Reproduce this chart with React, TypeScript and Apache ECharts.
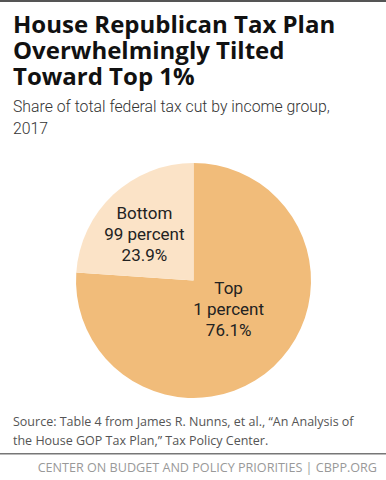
import React, { useEffect, useRef } from "react";
import * as echarts from "echarts";

const categories = ["Top\n1 percent", "Bottom\n99 percent"];
const shares = [76.1, 23.9];
const sliceColors = ["#F1BC7A", "#FBE3C7"];
const labelOffsets = [[-7, -17], [-7, -1]];

const titleLines = ["House Republican Tax Plan", "Overwhelmingly Tilted", "Toward Top 1%"];
const subtitleLines = ["Share of total federal tax cut by income group,", "2017"];
const sourceLines = [
  "Source: Table 4 from James R. Nunns, et al., \u201cAn Analysis of",
  "the House GOP Tax Plan,\u201d Tax Policy Center.",
];
const footerText = "CENTER ON BUDGET AND POLICY PRIORITIES | CBPP.ORG";

export default function App() {
  const ref = useRef<HTMLDivElement>(null);
  useEffect(() => {
    document.body.style.margin = "0";
    if (!ref.current) return;
    const chart = echarts.init(ref.current, null, { renderer: "svg" });
    const graphics: any[] = [
      { type: "rect", shape: { x: 0, y: 0, width: 386, height: 2 }, style: { fill: "#555" } },
      { type: "rect", shape: { x: 0, y: 453, width: 386, height: 1.5 }, style: { fill: "#777" } },
      {
        type: "text", x: 13, y: 10,
        style: { text: titleLines.join("\n"), font: "bold 24px 'Open Sans'", lineHeight: 26, fill: "#111", verticalAlign: "top" },
      },
      {
        type: "text", x: 13, y: 95,
        style: { text: subtitleLines.join("\n"), font: "300 15.8px Roboto", lineHeight: 22, fill: "#333", verticalAlign: "top" },
      },
      {
        type: "text", x: 13, y: 412,
        style: { text: sourceLines.join("\n"), font: "12.5px 'Open Sans'", lineHeight: 19, fill: "#555", verticalAlign: "top" },
      },
      {
        type: "text", x: 377, y: 467.5,
        style: { text: footerText, font: "12.6px 'Open Sans'", fill: "#999", align: "right", verticalAlign: "middle" },
      },
    ];

    chart.setOption({
      animation: false,
      backgroundColor: "#fff",
      graphic: graphics,
      series: [
        {
          type: "pie",
          center: [193.5, 280.5],
          radius: [0, 117.5],
          startAngle: 90,
          clockwise: true,
          silent: true,
          labelLine: { show: false },
          data: categories.map((c, i) => ({
            name: c,
            value: shares[i],
            itemStyle: { color: sliceColors[i] },
            label: { offset: labelOffsets[i] },
          })),
          label: {
            show: true,
            position: "inside",
            formatter: (p: any) => `${p.name}\n${p.value.toFixed(1)}%`,
            fontFamily: "Roboto",
            fontSize: 17,
            lineHeight: 21,
            color: "#222",
            align: "center",
          },
        },
      ],
    });
    return () => chart.dispose();
  }, []);
  return <div ref={ref} style={{ width: 386, height: 480 }} />;
}
